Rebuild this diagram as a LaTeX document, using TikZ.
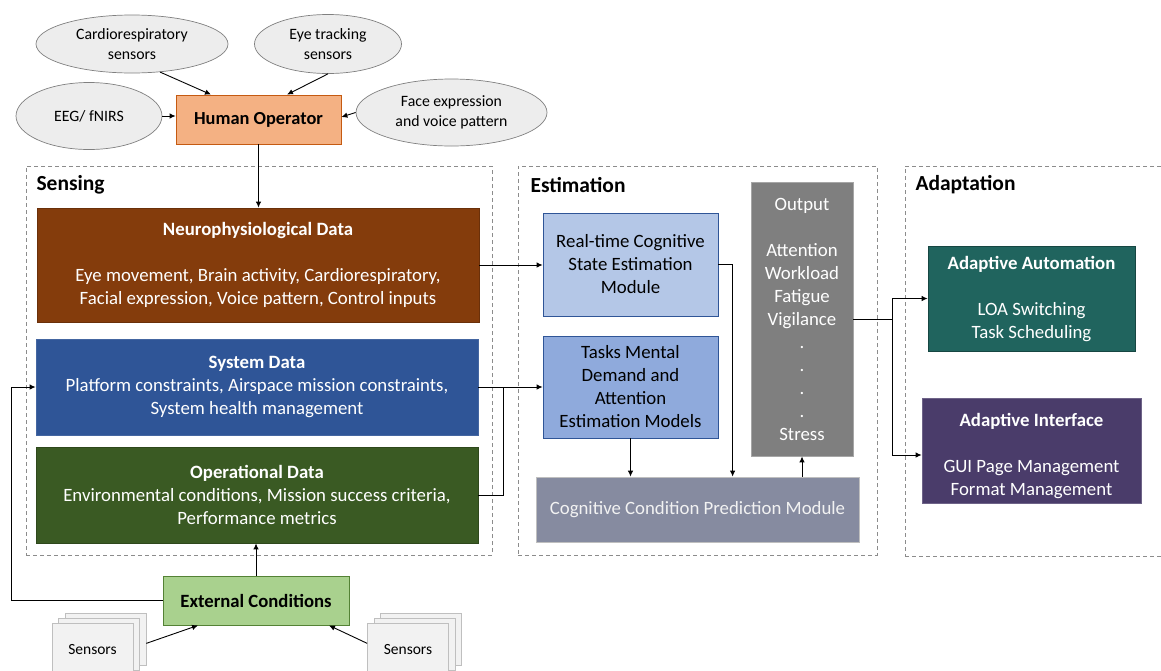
\documentclass[tikz,border=0pt]{standalone}
\usepackage{fontspec}
\setmainfont{Carlito}
\usetikzlibrary{arrows.meta,shapes.geometric,calc}
\definecolor{humanfill}{HTML}{F4B183}
\definecolor{humanline}{HTML}{C55A11}
\definecolor{neurofill}{HTML}{843C0C}
\definecolor{sysfill}{HTML}{2F5597}
\definecolor{operfill}{HTML}{3A5A23}
\definecolor{rtfill}{HTML}{B4C7E7}
\definecolor{taskfill}{HTML}{8FAADC}
\definecolor{outfill}{HTML}{7F7F7F}
\definecolor{cogfill}{HTML}{868BA0}
\definecolor{autofill}{HTML}{20645E}
\definecolor{intfill}{HTML}{4A3C6A}
\definecolor{extfill}{HTML}{A9D18E}
\definecolor{extline}{HTML}{548235}
\definecolor{ellfill}{HTML}{EDEDED}
\definecolor{ellline}{HTML}{808080}
\definecolor{sheetfill}{HTML}{F2F2F2}
\definecolor{sheetline}{HTML}{BFBFBF}
\begin{document}
\begin{tikzpicture}[x=1pt,y=-1pt,
  body/.style={font=\fontsize{18.8}{23}\selectfont},
  ell/.style={ellipse, draw=ellline, fill=ellfill, line width=0.7pt, inner sep=0pt,
    align=center, font=\fontsize{15.8}{20}\selectfont},
  box/.style={rectangle, line width=0.8pt, inner sep=0pt, align=center,
    font=\fontsize{18.8}{23}\selectfont},
  darkbox/.style={box, text=white},
  container/.style={rectangle, draw=black!45, line width=0.9pt,
    dash pattern=on 4pt off 3pt, inner sep=0pt},
  stage/.style={anchor=west, font=\fontsize{21.5}{25}\selectfont\bfseries},
  sheet/.style={rectangle, draw=sheetline, fill=sheetfill, line width=0.7pt,
    minimum width=81pt, minimum height=52pt, anchor=north, inner sep=0pt,
    font=\fontsize{15.5}{19}\selectfont},
  arr/.style={-{Latex[length=6pt,width=5.5pt]}, line width=0.9pt},
  link/.style={line width=0.9pt}]

\clip (0,0) rectangle (1161,670);

% sensor sources around the operator
\node[ell, minimum width=192pt, minimum height=58pt] (cardio) at (132,44) {Cardiorespiratory\\sensors};
\node[ell, minimum width=147pt, minimum height=59pt] (eye) at (328,44) {Eye tracking\\sensors};
\node[ell, minimum width=146pt, minimum height=67pt] (eeg) at (89,116) {EEG/ fNIRS};
\node[ell, minimum width=191pt, minimum height=67pt] (face) at (451.5,112.5) {Face expression\\and voice pattern};
\node[box, draw=humanline, fill=humanfill, minimum width=165pt, minimum height=49pt,
  font=\fontsize{18.4}{20}\selectfont\bfseries] (human) at (258.5,119.5) {Human Operator};

% stage containers
\node[container, minimum width=466pt, minimum height=389pt] (sensing) at (259,360.5) {};
\node[container, minimum width=359pt, minimum height=389pt] (estimation) at (697.5,360.5) {};
\node[container, minimum width=290pt, minimum height=390pt] (adaptation) at (1050,361) {};
\node[stage] (sensingtitle) at (33,185) {Sensing};
\node[stage] (estimationtitle) at (527,185) {Estimation};
\node[stage] (adaptationtitle) at (912,185) {Adaptation};

% sensing stage
\node[darkbox, draw=neurofill!80!black, fill=neurofill, minimum width=442pt, minimum height=114pt] (neuro) at (258,265)
  {\textbf{Neurophysiological Data}\\[23pt]Eye movement, Brain activity, Cardiorespiratory,\\Facial expression, Voice pattern, Control inputs};
\node[darkbox, draw=sysfill!90!white, fill=sysfill, minimum width=442pt, minimum height=96pt] (system) at (257,387)
  {\textbf{System Data}\\Platform constraints, Airspace mission constraints,\\System health management};
\node[darkbox, draw=operfill!80!black, fill=operfill, minimum width=442pt, minimum height=96pt] (oper) at (257,495)
  {\textbf{Operational Data}\\Environmental conditions, Mission success criteria,\\Performance metrics};

% estimation stage
\node[box, draw=sysfill, fill=rtfill, minimum width=175pt, minimum height=103pt] (realtime) at (630.5,264.5)
  {Real-time Cognitive\\State Estimation\\Module};
\node[box, draw=sysfill, fill=taskfill, minimum width=175pt, minimum height=102pt] (tasks) at (630.5,387)
  {Tasks Mental\\Demand and\\Attention\\Estimation Models};
\node[darkbox, draw=black!35, fill=outfill, minimum width=102pt, minimum height=274pt] (output) at (802,319)
  {Output\\[23pt]Attention\\Workload\\Fatigue\\Vigilance\\.\\.\\.\\.\\Stress};
\node[box, draw=black!25, fill=cogfill, text=white!95!black, minimum width=323pt, minimum height=65pt] (cog) at (697.5,509.5)
  {Cognitive Condition Prediction Module};

% adaptation stage
\node[darkbox, draw=autofill!70!black, fill=autofill, minimum width=207pt, minimum height=105pt] (automation) at (1031.5,298.5)
  {\textbf{Adaptive Automation}\\[23pt]LOA Switching\\Task Scheduling};
\node[darkbox, draw=intfill!80!white, fill=intfill, minimum width=219pt, minimum height=105pt] (interface) at (1031.5,450.5) {};
\node[body, text=white, align=center] (interfacetext) at (1031.5,456)
  {\textbf{Adaptive Interface}\\[23pt]GUI Page Management\\Format Management};

% external conditions and their sensors
\node[box, draw=extline, fill=extfill, minimum width=186pt, minimum height=49pt,
  font=\fontsize{18.7}{20}\selectfont\bfseries] (external) at (256,600.5) {External Conditions};
\node[sheet] (sensL3) at (105.5,613) {};
\node[sheet] (sensL2) at (99,618) {};
\node[sheet] (sensL) at (92.5,623) {Sensors};
\node[sheet] (sensR3) at (421,613) {};
\node[sheet] (sensR2) at (414.5,618) {};
\node[sheet] (sensR) at (408,623) {Sensors};

% connectors: sensors to operator
\draw[arr] (cardio.-45) -- ($(human.north)+(-47.5,0)$);
\draw[arr] (eye.south) -- ($(human.north)+(28.5,0)$);
\draw[arr] (eeg.east) -- (eeg.east -| human.west);
\draw[arr] (face.west) -- ($(human.east)+(0,-2.5)$);
\draw[arr] (human.south) -- (human.south |- neuro.north);

% connectors: sensing to estimation
\draw[arr] (neuro.east) -- (neuro.east -| realtime.west);
\draw[arr] (system.east) -- (tasks.west);
\coordinate (merge) at ($(system.east)+(25,0)$);
\draw[link] (oper.east) -| (merge);

% connectors inside estimation
\draw[arr] (realtime.east) -| ($(cog.north west)+(197,0)$);
\draw[arr] (tasks.south) -- (tasks.south |- cog.north);
\draw[arr] (output.south |- cog.north) -- (output.south);

% connectors: estimation to adaptation
\coordinate (split) at ($(output.east)+(39,0)$);
\draw[link] (output.east) -- (split);
\draw[arr] (split) |- (automation.west);
\draw[arr] (split) |- ($(interface.west)+(0,4.5)$);

% external conditions feedback
\draw[arr] (external.north) -- (external.north |- oper.south);
\coordinate (loop) at ($(external.west)+(-151,0)$);
\draw[arr] (external.west) -- (loop) |- (system.west);
\draw[arr] ($(sensL3.east)+(0,4)$) -- ($(external.south)+(-58,0)$);
\draw[arr] ($(sensR.west)+(0,-6)$) -- ($(external.south)+(73,0)$);
\end{tikzpicture}
\end{document}
